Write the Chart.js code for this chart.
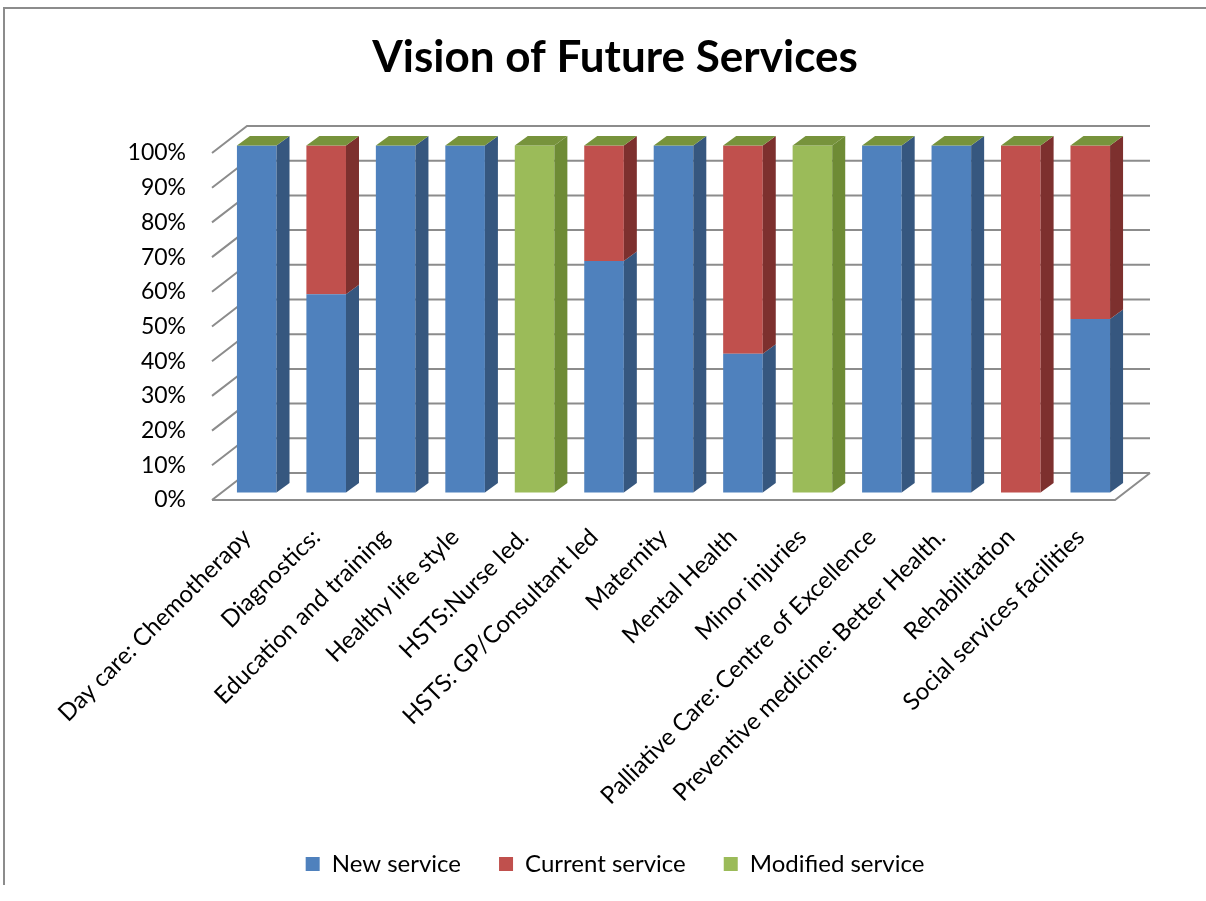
<!DOCTYPE html>
<html>
<head>
<meta charset="utf-8">
<script src="https://cdn.jsdelivr.net/npm/chart.js@4"></script>
<style>
  body { margin: 0; background: #fff; }
  #wrap { position: relative; width: 1206px; height: 901px; overflow: hidden; }
  #frame { position: absolute; left: 3px; top: 7px; width: 1220px; height: 876px;
           border-left: 2px solid #8c8c8c; border-top: 2px solid #8c8c8c; }
  canvas { position: absolute; left: 0; top: 0; }
</style>
</head>
<body>
<div id="wrap">
  <div id="frame"></div>
  <canvas id="chart" width="1206" height="901"></canvas>
</div>
<script>
const categories = [
  "Day care: Chemotherapy", "Diagnostics:", "Education and training", "Healthy life style",
  "HSTS:Nurse led.", "HSTS: GP/Consultant led", "Maternity", "Mental Health", "Minor injuries",
  "Palliative Care: Centre of Excellence", "Preventive medicine: Better Health.",
  "Rehabilitation", "Social services facilities"
];
const newService      = [100, 57.1, 100, 100, 0, 66.7, 100, 40, 0, 100, 100, 0, 50];
const currentService  = [0, 42.9, 0, 0, 0, 33.3, 0, 60, 0, 0, 0, 100, 50];
const modifiedService = [0, 0, 0, 0, 100, 0, 0, 0, 100, 0, 0, 0, 0];
const yTickStep = 10;

const blue = "#4F81BD", blueSide = "#36577F";
const red = "#C0504D", redSide = "#7D302E";
const green = "#9BBB59", greenSide = "#6E8B35";
const topFace = "#77933C";
const gridGray = "#8C8C8C";

// fake 3d: back wall offset, bar offset inside the depth, bar side depth
const WALL_DX = 35, WALL_DY = 27;
const BAR_DX = 10, BAR_DY = 7.5;
const SIDE_DX = 13, SIDE_DY = 9.5;

function poly(ctx, pts, color) {
  ctx.fillStyle = color;
  ctx.beginPath();
  ctx.moveTo(pts[0][0], pts[0][1]);
  for (let k = 1; k < pts.length; k++) ctx.lineTo(pts[k][0], pts[k][1]);
  ctx.closePath();
  ctx.fill();
}

const depth3d = {
  id: 'depth3d',
  beforeDatasetsDraw(chart) {
    const {ctx, chartArea: a, scales: {y}} = chart;
    ctx.save();
    ctx.strokeStyle = gridGray;
    ctx.lineWidth = 2;
    y.ticks.forEach(t => {
      const py = y.getPixelForValue(t.value);
      ctx.beginPath();
      ctx.moveTo(a.left, py);
      ctx.lineTo(a.left + WALL_DX, py - WALL_DY);
      ctx.lineTo(a.right + WALL_DX, py - WALL_DY);
      ctx.stroke();
    });
    const y0 = y.getPixelForValue(0);
    ctx.beginPath();
    ctx.moveTo(a.left, y0);
    ctx.lineTo(a.right, y0);
    ctx.lineTo(a.right + WALL_DX, y0 - WALL_DY);
    ctx.stroke();
    ctx.restore();
    // bars sit a bit back in the floor
    ctx.save();
    ctx.translate(BAR_DX, -BAR_DY);
  },
  afterDatasetsDraw(chart) {
    const ctx = chart.ctx;
    const sets = chart.data.datasets;
    sets.forEach((ds, di) => {
      chart.getDatasetMeta(di).data.forEach((bar, i) => {
        if (!ds.data[i]) return;
        const {x, y, base, width} = bar.getProps(['x', 'y', 'base', 'width'], true);
        const r = x + width / 2;
        poly(ctx, [[r, y], [r + SIDE_DX, y - SIDE_DY], [r + SIDE_DX, base - SIDE_DY], [r, base]], ds.sideColor);
      });
    });
    // top face on the highest segment of each stack
    categories.forEach((c, i) => {
      let top = -1;
      sets.forEach((ds, di) => { if (ds.data[i] > 0) top = di; });
      if (top < 0) return;
      const {x, y, width} = chart.getDatasetMeta(top).data[i].getProps(['x', 'y', 'width'], true);
      const l = x - width / 2, r = x + width / 2;
      poly(ctx, [[l, y], [l + SIDE_DX, y - SIDE_DY], [r + SIDE_DX, y - SIDE_DY], [r, y]], topFace);
    });
    ctx.restore();
  }
};

Chart.defaults.font.family = "Lato";
Chart.defaults.color = "#000";

new Chart(document.getElementById("chart"), {
  type: 'bar',
  data: {
    labels: categories,
    datasets: [
      { label: "New service", data: newService, backgroundColor: blue, sideColor: blueSide, clip: false },
      { label: "Current service", data: currentService, backgroundColor: red, sideColor: redSide, clip: false },
      { label: "Modified service", data: modifiedService, backgroundColor: green, sideColor: greenSide, clip: false }
    ]
  },
  options: {
    responsive: false,
    animation: false,
    barPercentage: 0.57,
    categoryPercentage: 1,
    layout: { padding: { left: 24, right: 0, top: 0, bottom: 15 } },
    plugins: {
      title: {
        display: true,
        text: "Vision of Future Services",
        font: { size: 44, weight: 'bold' },
        padding: { top: 31.6, bottom: 68.6 }
      },
      legend: {
        position: 'bottom',
        labels: { boxWidth: 14, boxHeight: 14, padding: 38, font: { size: 24 } }
      },
      tooltip: { enabled: false }
    },
    scales: {
      x: {
        stacked: true,
        grid: { display: false },
        border: { display: false },
        ticks: { autoSkip: false, minRotation: 45, maxRotation: 45, padding: 15, font: { size: 24 } },
        afterFit(s) { s.height = 314; }
      },
      y: {
        stacked: true,
        min: 0,
        max: 100,
        grid: { display: false, drawTicks: false },
        border: { display: false },
        ticks: { stepSize: yTickStep, padding: 26, font: { size: 23 }, callback: v => v + "%" },
        afterFit(s) { s.width = 188; }
      },
      // empty right-hand strip so the plot stops where the reference does
      spacer: {
        position: 'right',
        grid: { display: false },
        border: { display: false },
        ticks: { display: false },
        afterFit(s) { s.width = 91; }
      }
    }
  },
  plugins: [depth3d]
});
</script>
</body>
</html>
